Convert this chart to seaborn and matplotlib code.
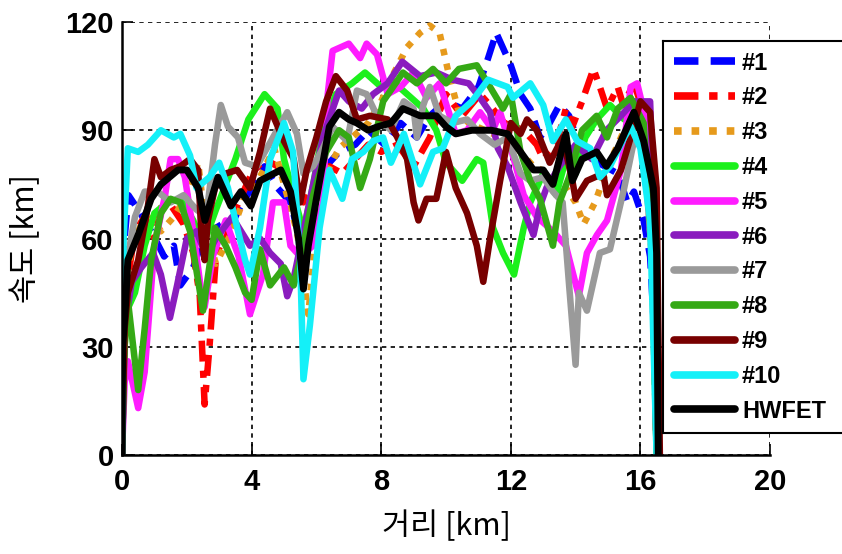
import numpy as np
import pandas as pd
import seaborn as sns
import matplotlib
matplotlib.use("Agg")
import matplotlib.pyplot as plt
from matplotlib.patches import Rectangle
from matplotlib.lines import Line2D

# distance [km] / speed samples of ten on-road drives and the HWFET cycle
d1 = [0, 0.08, 0.2, 0.5, 0.9, 1.3, 1.6, 1.8, 2.2, 2.5, 2.8, 3.2, 3.6, 4.0, 4.4, 4.8, 5.2, 5.6, 5.9, 6.3, 6.7, 7.2, 7.6, 8.1, 8.6, 9.1, 9.5, 10.0, 10.5, 11.0, 11.3, 11.55, 11.8, 12.0, 12.3, 12.6, 12.9, 13.2, 13.5, 13.8, 14.1, 14.5, 14.9, 15.3, 15.6, 15.8, 16.1, 16.3, 16.45, 16.5]
v1 = [0, 60, 72, 68, 62, 55, 58, 47, 52, 60, 66, 60, 68, 74, 80, 74, 70, 56, 68, 80, 84, 86, 90, 86, 92, 88, 94, 98, 96, 102, 110, 117, 112, 108, 100, 96, 88, 92, 97, 94, 86, 82, 80, 78, 70, 73, 65, 55, 30, 0]

d2 = [0, 0.08, 0.2, 0.4, 0.7, 1.0, 1.3, 1.6, 1.9, 2.2, 2.4, 2.55, 2.7, 2.9, 3.2, 3.6, 4.0, 4.4, 4.8, 5.2, 5.6, 6.0, 6.4, 6.8, 7.2, 7.6, 8.0, 8.5, 9.0, 9.5, 10.0, 10.5, 11.05, 11.35, 11.8, 12.4, 12.8, 13.0, 13.4, 13.7, 13.9, 14.2, 14.55, 14.75, 14.97, 15.3, 15.47, 15.8, 16.1, 16.35, 16.5]
v2 = [0, 40, 50, 62, 66, 60, 72, 68, 64, 56, 44, 14, 30, 55, 62, 70, 78, 82, 80, 78, 70, 75, 80, 78, 82, 86, 84, 86, 80, 88, 100, 94, 100, 97, 92, 90, 86, 82, 86, 96, 91, 98, 107, 102, 96, 102, 97, 103, 95, 60, 0]

d3 = [0, 0.08, 0.3, 0.8, 1.2, 1.6, 2.0, 2.35, 2.6, 2.9, 3.4, 3.8, 4.2, 4.7, 5.0, 5.4, 5.75, 6.0, 6.3, 6.7, 7.1, 7.6, 8.0, 8.4, 8.8, 9.2, 9.5, 9.8, 10.1, 10.4, 10.7, 11.2, 11.7, 12.2, 12.7, 13.2, 13.7, 14.0, 14.25, 14.6, 15.0, 15.5, 15.8, 16.1, 16.35, 16.5]
v3 = [0, 45, 58, 68, 62, 66, 72, 81, 62, 53, 62, 72, 76, 85, 75, 62, 39, 62, 78, 85, 88, 92, 98, 106, 113, 117, 119, 117, 105, 95, 92, 90, 88, 85, 80, 78, 74, 70, 64, 70, 80, 90, 95, 90, 55, 0]

d4 = [0, 0.08, 0.15, 0.4, 0.7, 1.0, 1.4, 1.8, 2.2, 2.5, 2.9, 3.2, 3.5, 3.9, 4.4, 4.8, 5.0, 5.3, 5.6, 5.9, 6.2, 6.6, 7.1, 7.5, 8.0, 8.3, 8.8, 9.3, 9.7, 10.0, 10.5, 10.95, 11.15, 11.45, 11.76, 12.1, 12.4, 12.6, 13.0, 13.4, 13.7, 14.0, 14.3, 14.65, 15.06, 15.5, 15.8, 16.1, 16.35, 16.5]
v4 = [0, 30, 40, 45, 58, 67, 70, 71, 65, 58, 68, 75, 82, 93, 100, 96, 82, 72, 62, 75, 90, 100, 103, 106, 102, 104, 100, 96, 90, 81, 76, 82, 81, 63, 56, 50, 63, 70, 78, 72, 82, 78, 88, 93, 97, 93, 98, 97, 60, 0]

d5 = [0, 0.08, 0.18, 0.5, 0.7, 1.0, 1.33, 1.5, 1.73, 1.94, 2.2, 2.45, 2.55, 2.8, 3.2, 3.6, 3.95, 4.35, 4.66, 5.0, 5.2, 5.5, 5.9, 6.2, 6.35, 6.5, 7.0, 7.35, 7.55, 7.87, 8.2, 8.6, 9.0, 9.4, 9.8, 10.3, 10.65, 11.05, 11.45, 11.67, 12.0, 12.4, 12.8, 13.3, 13.7, 14.1, 14.35, 14.66, 14.97, 15.4, 15.7, 15.9, 16.2, 16.4, 16.5]
v5 = [0, 20, 26, 13, 23, 58, 72, 82, 82, 77, 62, 45, 41, 55, 65, 55, 39, 50, 70, 70, 58, 55, 58, 70, 100, 112, 114, 110, 114, 111, 100, 102, 106, 99, 103, 89, 90, 95, 90, 95, 85, 72, 66, 62, 58, 44, 56, 61, 65, 79, 102, 103, 92, 50, 0]

d6 = [0, 0.08, 0.3, 0.6, 0.96, 1.2, 1.48, 1.7, 2.0, 2.3, 2.6, 2.9, 3.4, 3.95, 4.26, 4.57, 4.9, 5.1, 5.3, 5.6, 5.9, 6.2, 6.7, 7.0, 7.4, 7.75, 8.2, 8.65, 9.2, 9.7, 10.2, 10.7, 11.05, 11.36, 11.6, 11.9, 12.3, 12.7, 12.9, 13.1, 13.5, 14.0, 14.5, 14.95, 15.4, 15.8, 16.3, 16.45, 16.55]
v6 = [0, 35, 48, 52, 56, 50, 38, 47, 60, 62, 55, 60, 66, 58, 60, 56, 53, 44, 49, 62, 75, 88, 101, 98, 96, 100, 103, 109, 105, 106, 104, 103, 99, 95, 85, 80, 70, 61, 69, 74, 80, 86, 82, 90, 94, 98, 98, 60, 0]

d7 = [0, 0.08, 0.4, 0.7, 1.1, 1.5, 1.9, 2.3, 2.6, 2.87, 3.05, 3.27, 3.58, 3.8, 4.16, 4.66, 5.1, 5.4, 5.6, 5.9, 6.2, 6.5, 6.95, 7.25, 7.55, 7.87, 8.3, 8.7, 9.0, 9.1, 9.3, 9.5, 9.8, 10.2, 10.65, 11.05, 11.5, 11.9, 12.3, 12.6, 13.0, 13.3, 13.6, 13.8, 14.0, 14.1, 14.35, 14.55, 14.75, 15.06, 15.5, 15.8, 16.1, 16.4, 16.5]
v7 = [0, 50, 66, 73, 73, 70, 72, 68, 66, 86, 97, 91, 88, 81, 80, 88, 95, 89, 78, 80, 85, 91, 87, 101, 100, 94, 90, 98, 96, 88, 97, 102, 94, 92, 93, 89, 86, 88, 78, 76, 77, 73, 70, 47, 25, 45, 40, 48, 56, 57, 74, 87, 85, 50, 0]

d8 = [0, 0.08, 0.18, 0.5, 0.7, 0.9, 1.2, 1.5, 1.8, 2.1, 2.5, 2.87, 3.2, 3.5, 3.8, 4.0, 4.26, 4.57, 5.0, 5.3, 5.6, 5.9, 6.3, 6.7, 7.0, 7.35, 7.65, 8.06, 8.67, 9.1, 9.6, 10.0, 10.4, 10.95, 11.36, 11.76, 12.0, 12.3, 12.6, 12.9, 13.3, 13.5, 13.8, 14.2, 14.65, 14.97, 15.3, 15.7, 16.1, 16.4, 16.5]
v8 = [0, 30, 43, 18, 35, 54, 67, 71, 70, 62, 40, 63, 58, 52, 45, 43, 57, 47, 52, 47, 58, 72, 84, 90, 88, 74, 82, 98, 106, 103, 107, 103, 107, 108, 102, 96, 100, 84, 76, 71, 58, 70, 77, 90, 94, 88, 96, 99, 92, 50, 0]

d9 = [0, 0.08, 0.18, 0.5, 0.8, 1.0, 1.2, 1.5, 1.8, 2.1, 2.35, 2.45, 2.55, 2.65, 2.87, 3.2, 3.55, 3.95, 4.26, 4.57, 5.0, 5.3, 5.5, 5.7, 6.0, 6.3, 6.6, 6.95, 7.25, 7.65, 8.2, 8.5, 8.8, 9.0, 9.15, 9.4, 9.7, 10.0, 10.3, 10.65, 10.95, 11.15, 11.36, 11.67, 12.0, 12.3, 12.5, 12.8, 13.2, 13.6, 13.9, 14.0, 14.35, 14.85, 14.97, 15.4, 15.7, 16.0, 16.3, 16.5, 16.6]
v9 = [0, 35, 45, 54, 69, 82, 77, 79, 80, 82, 79, 61, 54, 65, 74, 78, 79, 74, 84, 96, 87, 82, 70, 79, 88, 98, 105, 101, 93, 94, 93, 88, 82, 70, 65, 71, 71, 84, 74, 67, 58, 48, 60, 76, 92, 89, 93, 90, 81, 88, 76, 71, 76, 78, 72, 79, 88, 98, 95, 74, 0]

d10 = [0, 0.05, 0.18, 0.5, 0.8, 1.2, 1.6, 1.8, 2.1, 2.3, 2.7, 3.0, 3.27, 3.5, 3.8, 3.95, 4.26, 4.57, 5.0, 5.28, 5.5, 5.6, 5.8, 6.1, 6.4, 6.8, 7.1, 7.45, 7.75, 8.06, 8.3, 8.7, 9.2, 9.6, 9.9, 10.3, 10.8, 11.3, 11.9, 12.07, 12.6, 13.0, 13.3, 13.7, 14.05, 14.45, 14.75, 15.06, 15.5, 15.7, 16.0, 16.3, 16.5]
v10 = [0, 60, 85, 84, 86, 90, 88, 89, 83, 74, 77, 81, 74, 65, 54, 50, 63, 82, 92, 84, 54, 21, 36, 63, 79, 71, 82, 84, 87, 88, 81, 89, 75, 84, 85, 94, 98, 104, 102, 99, 103, 97, 87, 93, 87, 85, 77, 80, 88, 91, 85, 65, 0]

dh = [0, 0.02, 0.1, 0.18, 0.5, 0.9, 1.2, 1.73, 2.0, 2.35, 2.56, 2.96, 3.36, 3.67, 3.98, 4.26, 4.9, 5.2, 5.45, 5.6, 5.75, 6.0, 6.4, 6.7, 7.0, 7.25, 7.6, 7.9, 8.3, 8.67, 9.2, 9.7, 10.0, 10.3, 10.8, 11.4, 11.9, 12.3, 12.7, 13.0, 13.3, 13.7, 13.9, 14.2, 14.65, 14.95, 15.3, 15.8, 16.1, 16.4, 16.5, 16.55]
vh = [0, 30, 40, 54, 61, 71, 75, 79, 79, 74, 65, 77, 69, 73, 69, 76, 79, 73, 60, 46, 58, 71, 91, 95, 93, 92, 90, 91, 92, 96, 94, 94, 91, 89, 90, 90, 89, 84, 79, 79, 75, 89, 76, 82, 84, 80, 85, 95, 87, 74, 56, 0]

labels = ["#1", "#2", "#3", "#4", "#5", "#6", "#7", "#8", "#9", "#10", "HWFET"]
distances = [d1, d2, d3, d4, d5, d6, d7, d8, d9, d10, dh]
speeds = [v1, v2, v3, v4, v5, v6, v7, v8, v9, v10, vh]

x_ticks = [0, 4, 8, 12, 16, 20]
y_ticks = [0, 30, 60, 90, 120]

colors = ["#0000ff", "#ff0000", "#e69a1c", "#1cf01c", "#ff1cff", "#8a1cbe",
          "#9a9a9a", "#35a915", "#780000", "#14f0f8", "#000000"]
line_styles = [(0, (3.2, 1.6)), (0, (3.2, 1.4, 1.1, 1.4)), (0, (1.0, 1.3)),
               "-", "-", "-", "-", "-", "-", "-", "-"]

sns.set_style("ticks")
plt.rcParams["font.family"] = ["Liberation Sans", "DejaVu Sans"]
plt.rcParams["text.color"] = "black"
plt.rcParams["axes.labelcolor"] = "black"
plt.rcParams["xtick.color"] = "black"
plt.rcParams["ytick.color"] = "black"

fig = plt.figure(figsize=(8.42, 5.54), dpi=100)
ax = fig.add_axes([122 / 842, 1 - 455 / 554, 648 / 842, 433 / 554])

for lab, xs, ys, col, ls in zip(labels, distances, speeds, colors, line_styles):
    df = pd.DataFrame({"dist": xs, "speed": ys})
    lw = 5.0 if lab == "HWFET" else 4.7
    sns.lineplot(data=df, x="dist", y="speed", sort=False, estimator=None,
                 color=col, linestyle=ls, linewidth=lw, label=lab, ax=ax,
                 solid_capstyle="round", solid_joinstyle="round")

ax.set_xlim(0, 20)
ax.set_ylim(0, 120)
ax.set_xticks(x_ticks)
ax.set_yticks(y_ticks)
ax.set_xticklabels([str(t) for t in x_ticks], fontsize=21, fontweight="bold")
ax.set_yticklabels([str(t) for t in y_ticks], fontsize=21, fontweight="bold")
ax.tick_params(direction="in", length=8, width=1.2, colors="black")
ax.tick_params(axis="x", pad=9)
ax.tick_params(axis="y", pad=6)

ax.set_axisbelow(True)
ax.grid(True, color="black", linestyle=(0, (2.6, 2.6)), linewidth=1.2)

for side in ("top", "right"):
    ax.spines[side].set_visible(False)
for side in ("left", "bottom"):
    ax.spines[side].set_color("black")
    ax.spines[side].set_linewidth(1.8)

korean = ["Noto Sans CJK KR", "DejaVu Sans"]
ax.set_xlabel("거리 [km]", fontsize=22, family=korean, color="black", labelpad=11)
ax.set_ylabel("속도 [km]", fontsize=22, family=korean, color="black", labelpad=17)

leg = ax.legend(loc="upper left", bbox_to_anchor=(663 / 842, 1 - 41 / 554),
                bbox_transform=fig.transFigure,
                prop={"family": "Liberation Sans", "weight": "bold", "size": 17},
                frameon=False, handlelength=2.6, handletextpad=0.3,
                labelspacing=0.5, borderpad=0.45, borderaxespad=0)
for h in leg.get_lines():
    h.set_linewidth(5.5)

# legend box: white panel with top, left and bottom borders, open at the right edge
fig.canvas.draw()
bb = leg.get_window_extent().transformed(fig.transFigure.inverted())
x_end = 1.0
fig.add_artist(Rectangle((bb.x0, bb.y0), x_end - bb.x0, bb.height,
                         transform=fig.transFigure, facecolor="white",
                         edgecolor="none", linewidth=0, zorder=4))
for xs, ys in (([bb.x0, x_end], [bb.y1, bb.y1]),
               ([bb.x0, x_end], [bb.y0, bb.y0]),
               ([bb.x0, bb.x0], [bb.y0, bb.y1])):
    fig.add_artist(Line2D(xs, ys, transform=fig.transFigure, color="black",
                          linewidth=1.5, zorder=4.5,
                          solid_capstyle="projecting"))
leg.set_zorder(5)
leg.remove()
fig.add_artist(leg)

fig.savefig("out.png", dpi=100)
